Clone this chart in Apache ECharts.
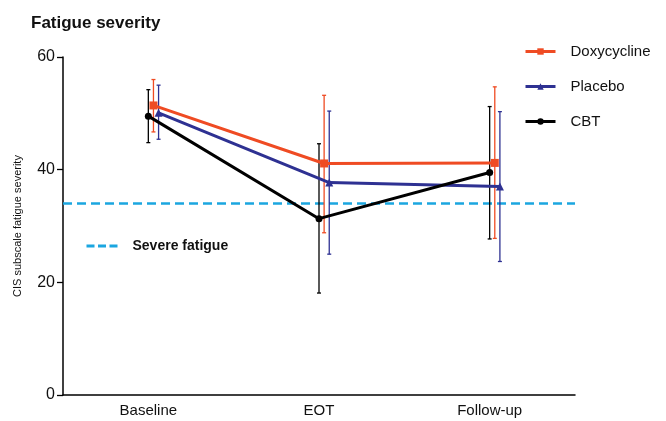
<!DOCTYPE html>
<html>
<head>
<meta charset="utf-8">
<script src="https://cdn.jsdelivr.net/npm/echarts@6/dist/echarts.min.js"></script>
<style>
  html, body { margin: 0; padding: 0; background: #fff; }
  #chart { width: 666px; height: 421px; }
</style>
</head>
<body>
<div id="chart"></div>
<script>
// time points
var categories = ['Baseline', 'EOT', 'Follow-up'];

// group means
var doxyMean = [51.4, 41.1, 41.2];
var placeboMean = [50.1, 37.7, 37.0];
var cbtMean = [49.5, 31.3, 39.5];

// error bar ends (upper / lower)
var doxyHigh = [56.0, 53.2, 54.7];
var doxyLow = [46.7, 28.8, 27.8];
var placeboHigh = [55.0, 50.4, 50.3];
var placeboLow = [45.4, 25.0, 23.7];
var cbtHigh = [54.2, 44.6, 51.2];
var cbtLow = [44.8, 18.1, 27.7];

// cut-off for severe fatigue
var severeCutoff = 34;

var yTicks = [0, 20, 40, 60];

var colors = {
    doxy: '#EF4B23',
    placebo: '#2E3192',
    cbt: '#000000',
    severe: '#1BA6E0'
};

// small sideways shift so the groups don't overlap (in category units)
var dodge = { cbt: 0, doxy: 0.03, placebo: 0.06 };

function points(values, shift) {
    var out = [];
    for (var i = 0; i < values.length; i++) {
        out.push([i + shift, values[i]]);
    }
    return out;
}

function bars(low, high, shift) {
    var out = [];
    for (var i = 0; i < low.length; i++) {
        out.push([i + shift, low[i], high[i]]);
    }
    return out;
}

function errorSeries(name, low, high, shift, color) {
    return {
        type: 'custom',
        name: name,
        xAxisIndex: 1,
        z: 1,
        silent: true,
        itemStyle: { color: color },
        data: bars(low, high, shift),
        renderItem: function (params, api) {
            var lo = api.coord([api.value(0), api.value(1)]);
            var hi = api.coord([api.value(0), api.value(2)]);
            var w = 2;
            var st = { stroke: color, lineWidth: 1.3 };
            return {
                type: 'group',
                children: [
                    { type: 'line', shape: { x1: lo[0], y1: lo[1], x2: hi[0], y2: hi[1] }, style: st },
                    { type: 'line', shape: { x1: lo[0] - w, y1: lo[1], x2: lo[0] + w, y2: lo[1] }, style: st },
                    { type: 'line', shape: { x1: hi[0] - w, y1: hi[1], x2: hi[0] + w, y2: hi[1] }, style: st }
                ]
            };
        }
    };
}

function meanSeries(name, values, shift, color, symbol, size) {
    return {
        type: 'line',
        name: name,
        xAxisIndex: 1,
        z: 3,
        data: points(values, shift),
        symbol: symbol,
        symbolSize: size,
        showSymbol: true,
        lineStyle: { color: color, width: 3 },
        itemStyle: { color: color },
        emphasis: { disabled: true }
    };
}

var myChart = echarts.init(document.getElementById('chart'));

var option = {
    animation: false,
    title: {
        text: 'Fatigue severity',
        left: 26,
        top: 10,
        textStyle: { fontFamily: 'Liberation Sans', fontSize: 17, fontWeight: 'bold', color: '#111' }
    },
    legend: [{
        data: ['Doxycycline', 'Placebo', 'CBT'],
        orient: 'vertical',
        left: 519,
        top: 39,
        itemWidth: 30,
        itemHeight: 8,
        itemGap: 20,
        lineStyle: { width: 3 },
        textStyle: { fontFamily: 'Liberation Sans', fontSize: 15, color: '#111', padding: [0, 0, 0, 10] }
    }, {
        data: ['Severe fatigue'],
        orient: 'vertical',
        left: 80,
        top: 234,
        itemWidth: 32,
        itemHeight: 12,
        itemStyle: { opacity: 0 },
        lineStyle: { type: [8, 3.5], width: 3 },
        textStyle: { fontFamily: 'Liberation Sans', fontSize: 14, fontWeight: 'bold', color: '#111', padding: [0, 0, 0, 9] }
    }],
    grid: { left: 63, right: 91, top: 57, bottom: 26, containLabel: false },
    xAxis: [{
        type: 'category',
        data: categories,
        boundaryGap: true,
        axisLine: { onZero: false, lineStyle: { color: '#000', width: 1.5 } },
        axisTick: { alignWithLabel: true, length: 6, lineStyle: { color: '#000', width: 1.3 } },
        axisLabel: { fontFamily: 'Liberation Sans', fontSize: 15, color: '#111', margin: 8 },
        splitLine: { show: false }
    }, {
        type: 'value',
        min: -0.5,
        max: 2.5,
        show: false
    }],
    yAxis: {
        type: 'value',
        min: 0,
        max: 60,
        interval: 20,
        name: 'CIS subscale fatigue severity',
        nameLocation: 'middle',
        nameGap: 40,
        nameTextStyle: { fontFamily: 'Liberation Sans', fontSize: 11, color: '#111' },
        axisLine: { show: true, onZero: false, lineStyle: { color: '#000', width: 1.5 } },
        axisTick: { show: true, length: 6, lineStyle: { color: '#000', width: 1.3 } },
        axisLabel: {
            fontFamily: 'Liberation Sans', fontSize: 16, color: '#111', margin: 8,
            formatter: function (v) { return yTicks.indexOf(v) >= 0 ? String(v) : ''; }
        },
        splitLine: { show: false }
    },
    series: [
        meanSeries('Doxycycline', doxyMean, dodge.doxy, colors.doxy, 'rect', 8),
        meanSeries('Placebo', placeboMean, dodge.placebo, colors.placebo, 'triangle', 8),
        meanSeries('CBT', cbtMean, dodge.cbt, colors.cbt, 'circle', 7),
        {
            type: 'line',
            name: 'Severe fatigue',
            xAxisIndex: 1,
            z: 0,
            data: [[-0.5, severeCutoff], [2.5, severeCutoff]],
            symbol: 'none',
            lineStyle: { color: colors.severe, width: 2.5, type: [9, 5] },
            itemStyle: { color: colors.severe },
            emphasis: { disabled: true }
        },
        errorSeries('Doxycycline', doxyLow, doxyHigh, dodge.doxy, colors.doxy),
        errorSeries('Placebo', placeboLow, placeboHigh, dodge.placebo, colors.placebo),
        errorSeries('CBT', cbtLow, cbtHigh, dodge.cbt, colors.cbt)
    ]
};

myChart.setOption(option);
</script>
</body>
</html>
